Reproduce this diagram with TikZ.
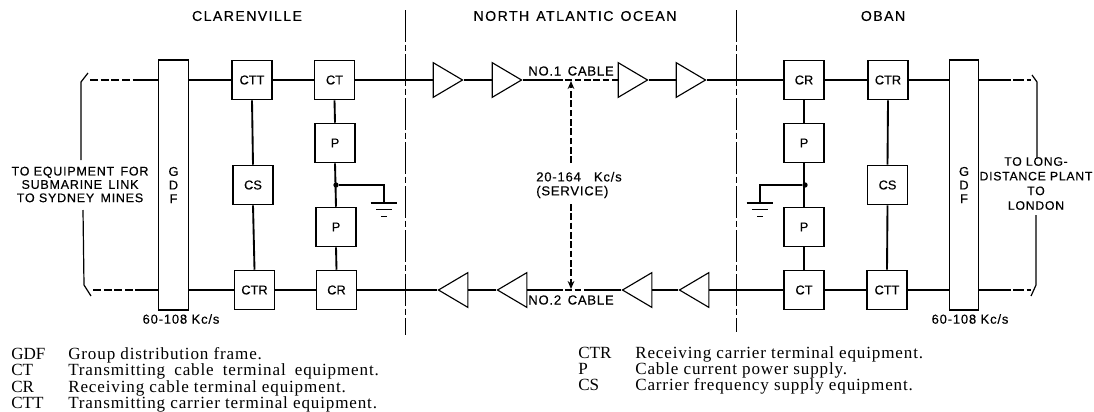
\documentclass[tikz,border=0pt]{standalone}
\usepackage{fontspec}
\usetikzlibrary{shapes.geometric,arrows.meta}
\setmainfont[FakeBold=0.35]{Liberation Sans}
\newfontfamily\lblfont[LetterSpace=6,FakeBold=0.35]{Liberation Sans}
\newfontfamily\ttlfont[LetterSpace=10,FakeBold=0.35]{Liberation Sans}
\newfontfamily\legfont[LetterSpace=5]{Liberation Serif}
\newfontfamily\keyfont{Liberation Serif}
\tikzset{
  box/.style={draw=black,line width=0.9pt,fill=white,minimum width=30pt,minimum height=29.5pt,inner sep=0pt,font=\fontsize{9.6}{9.6}\selectfont},
  gdf/.style={draw=black,line width=0.9pt,fill=white,minimum width=22pt,minimum height=187.5pt,inner sep=0pt,align=center,font=\fontsize{9.6}{10.2}\selectfont},
  wire/.style={line width=1.4pt,draw=black},
  dash wire/.style={line width=1.4pt,draw=black,dash pattern=on 6pt off 2pt},
  amp/.style={draw=black,line width=0.85pt,fill=white,isosceles triangle,isosceles triangle stretches,minimum width=26pt,minimum height=22pt,inner sep=0pt},
  ampr/.style={amp,shape border rotate=0,anchor=apex},
  ampl/.style={amp,shape border rotate=180,anchor=apex},
  div/.style={line width=0.6pt,draw=black,dash pattern=on 24pt off 2pt on 5pt off 2pt},
  lbl/.style={inner sep=0pt,align=center,font=\fontsize{9.8}{10.2}\lblfont},
  ttl/.style={inner sep=0pt,font=\fontsize{10.6}{10}\ttlfont},
  leg/.style={inner sep=0pt,anchor=base west,font=\fontsize{12.8}{12}\legfont},
  legkey/.style={inner sep=0pt,anchor=base west,font=\fontsize{12.8}{12}\keyfont},
  svc/.style={line width=1.2pt,draw=black,dash pattern=on 5pt off 2pt},
  dot/.style={circle,fill=black,inner sep=0pt,minimum size=4pt}
}
\begin{document}
\begin{tikzpicture}[x=0.75pt,y=-0.75pt]
\useasboundingbox (0,0) rectangle (1094,411);
% dividers
\coordinate (d1a) at (405,10); \coordinate (d1b) at (405,335);
\coordinate (d2a) at (736,10); \coordinate (d2b) at (736,332);
\draw[div] (d1a) -- (d1b);
\draw[div] (d2a) -- (d2b);
% titles
\node[ttl] (t1) at (247,16) {CLARENVILLE};
\node[ttl] (t2) at (575,16) {NORTH\enspace ATLANTIC\enspace OCEAN};
\node[ttl] (t3) at (883,16) {OBAN};
% left terminal
\node[gdf] (gdfL) at (173.5,185) {G\\D\\F};
\node[box] (ctt1) at (252,80) {CTT};
\node[box] (ct1) at (334.5,80) {CT};
\node[box] (p1) at (335,143) {P};
\node[box] (cs1) at (253,185) {CS};
\node[box] (p2) at (336,227) {P};
\node[box] (ctr1) at (254.5,290) {CTR};
\node[box] (cr1) at (336.5,290) {CR};
% right terminal
\node[box] (cr2) at (804,80) {CR};
\node[box] (ctr2) at (888,80) {CTR};
\node[box] (p3) at (804,143) {P};
\node[box] (cs2) at (887.5,185) {CS};
\node[box] (p4) at (804,227) {P};
\node[box] (ct2) at (804,290) {CT};
\node[box] (ctt2) at (887,290) {CTT};
\node[gdf] (gdfR) at (964,185) {G\\D\\F};
% amplifiers
\node[ampr] (a1) at (464,80) {};
\node[ampr] (a2) at (523,80) {};
\node[ampr] (a3) at (649,80) {};
\node[ampr] (a4) at (707,80) {};
\node[ampl] (b1) at (437,290) {};
\node[ampl] (b2) at (496,290) {};
\node[ampl] (b3) at (621,290) {};
\node[ampl] (b4) at (678,290) {};
% top chain
\coordinate (c1a) at (556,80);
\draw[wire] (gdfL.east |- ctt1) -- (ctt1.west);
\draw[wire] (ctt1.east) -- (ct1.west);
\draw[wire] (ct1.east) -- (a1.west);
\draw[wire] (a1.apex) -- (a2.west);
\draw[wire] (a2.apex) -- (c1a);
\draw[svc] (c1a) -- (a3.west);
\draw[wire] (a3.apex) -- (a4.west);
\draw[wire] (a4.apex) -- (cr2.west);
\draw[wire] (cr2.east) -- (ctr2.west);
\draw[line width=1.9pt] (ctr2.east) -- (gdfR.west |- ctr2);
% bottom chain
\coordinate (c2a) at (556,290); \coordinate (c2b) at (590,290);
\draw[wire] (gdfL.east |- ctr1) -- (ctr1.west);
\draw[wire] (ctr1.east) -- (cr1.west);
\draw[wire] (cr1.east) -- (b1.apex);
\draw[wire] (b1.east) -- (b2.apex);
\draw[wire] (b2.east) -- (c2a);
\draw[svc] (c2a) -- (c2b);
\draw[wire] (c2b) -- (b3.apex);
\draw[wire] (b3.east) -- (b4.apex);
\draw[wire] (b4.east) -- (ct2.west);
\draw[wire] (ct2.east) -- (ctt2.west);
\draw[wire] (ctt2.east) -- (gdfR.west |- ctt2);
% verticals
\draw[wire] (ctt1.south) -- (cs1.north);
\draw[wire] (cs1.south) -- (ctr1.north);
\draw[wire] (ct1.south) -- (p1.north);
\draw[wire] (p1.south) -- (p2.north);
\draw[wire] (p2.south) -- (cr1.north);
\draw[wire] (ctr2.south) -- (cs2.north);
\draw[wire] (cs2.south) -- (ctt2.north);
\draw[wire] (cr2.south) -- (p3.north);
\draw[wire] (p3.south) -- (p4.north);
\draw[wire] (p4.south) -- (ct2.north);
% grounds
\node[dot] (j1) at (336,185) {};
\node[dot] (j2) at (805,185) {};
\coordinate (g1) at (384,203); \coordinate (g2) at (760,203);
\draw[wire] (j1) -| (g1);
\draw[wire] (j2) -| (g2);
\draw[line width=0.9pt] ([xshift=-10pt]g1) -- ([xshift=10pt]g1);
\draw[line width=0.9pt] ([xshift=-6pt,yshift=-5pt]g1) -- ([xshift=6pt,yshift=-5pt]g1);
\draw[line width=0.9pt] ([xshift=-2pt,yshift=-10pt]g1) -- ([xshift=2pt,yshift=-10pt]g1);
\draw[line width=0.9pt] ([xshift=-10pt]g2) -- ([xshift=10pt]g2);
\draw[line width=0.9pt] ([xshift=-6pt,yshift=-5pt]g2) -- ([xshift=6pt,yshift=-5pt]g2);
\draw[line width=0.9pt] ([xshift=-2pt,yshift=-10pt]g2) -- ([xshift=2pt,yshift=-10pt]g2);
% left bracket
\coordinate (la) at (90,80); \coordinate (lb) at (135,80);
\coordinate (lc) at (93,290); \coordinate (ld) at (135,290);
\draw[dash wire] (la) -- (lb);
\draw[wire] (lb) -- (gdfL.west |- lb);
\draw[dash wire] (lc) -- (ld);
\draw[wire] (ld) -- (gdfL.west |- ld);
\draw[line width=0.9pt] (88,73) -- (81,82) -- (81,160);
\draw[line width=0.9pt] (83,210) -- (84,285) -- (91,296);
% right bracket
\coordinate (ra) at (1031,80); \coordinate (rb) at (1000,80);
\coordinate (rc) at (1031,290); \coordinate (rd) at (1000,290);
\draw[line width=1.9pt] (gdfR.east |- rb) -- (rb);
\draw[line width=1.9pt,dash pattern=on 8pt off 2pt] (rb) -- (ra);
\draw[line width=1.9pt] (gdfR.east |- rd) -- (rd);
\draw[line width=1.9pt,dash pattern=on 8pt off 2pt] (rd) -- (rc);
\draw[line width=0.9pt] (1032,75) -- (1037,82) -- (1037,158);
\draw[line width=0.9pt] (1036,215) -- (1036,285) -- (1031,296);
% service arrows
\coordinate (s1) at (571,163); \coordinate (s2) at (571,204);
\coordinate (t81) at (571,81); \coordinate (b289) at (571,289);
\draw[svc,-{Stealth[length=6pt,width=5pt]}] (s1) -- (t81);
\draw[svc,-{Stealth[length=6pt,width=5pt]}] (s2) -- (b289);
% labels
\node[lbl] (l1) at (571,71) {NO.1\enspace CABLE};
\node[lbl] (l2) at (571,300) {NO.2\enspace CABLE};
\node[lbl,align=left,font=\fontsize{9.8}{10.5}\lblfont] (l3) at (579,185) {20-164\quad Kc/s\\(SERVICE)};
\node[lbl,font=\fontsize{9.4}{10}\lblfont] (l4) at (80,184.5) {TO EQUIPMENT\enspace FOR\\SUBMARINE\enspace LINK\\TO SYDNEY\enspace MINES};
\node[lbl,font=\fontsize{9.2}{11}\lblfont] (l5) at (1036,183.5) {TO LONG-\\DISTANCE PLANT\\TO\\LONDON};
\node[lbl] (l6) at (181,319) {60-108 Kc/s};
\node[lbl] (l7) at (970,319) {60-108 Kc/s};
% legend
\node[legkey] (k1) at (11,359) {GDF};
\node[legkey] (k2) at (11,375) {CT};
\node[legkey] (k3) at (11,392) {CR};
\node[legkey] (k4) at (11,408) {CTT};
\node[leg] (v1) at (68,359) {Group distribution frame.};
\node[leg] (v2) at (68,375) {Transmitting\hspace{3pt} cable\hspace{3pt} terminal\hspace{3pt} equipment.};
\node[leg] (v3) at (68,392) {Receiving cable terminal equipment.};
\node[leg] (v4) at (68,408) {Transmitting carrier terminal equipment.};
\node[legkey] (k5) at (578,358) {CTR};
\node[legkey] (k6) at (578,374) {P};
\node[legkey] (k7) at (578,390) {CS};
\node[leg] (v5) at (635,358) {Receiving carrier terminal equipment.};
\node[leg] (v6) at (635,374) {Cable current power supply.};
\node[leg] (v7) at (635,390) {Carrier frequency supply equipment.};
\end{tikzpicture}
\end{document}
